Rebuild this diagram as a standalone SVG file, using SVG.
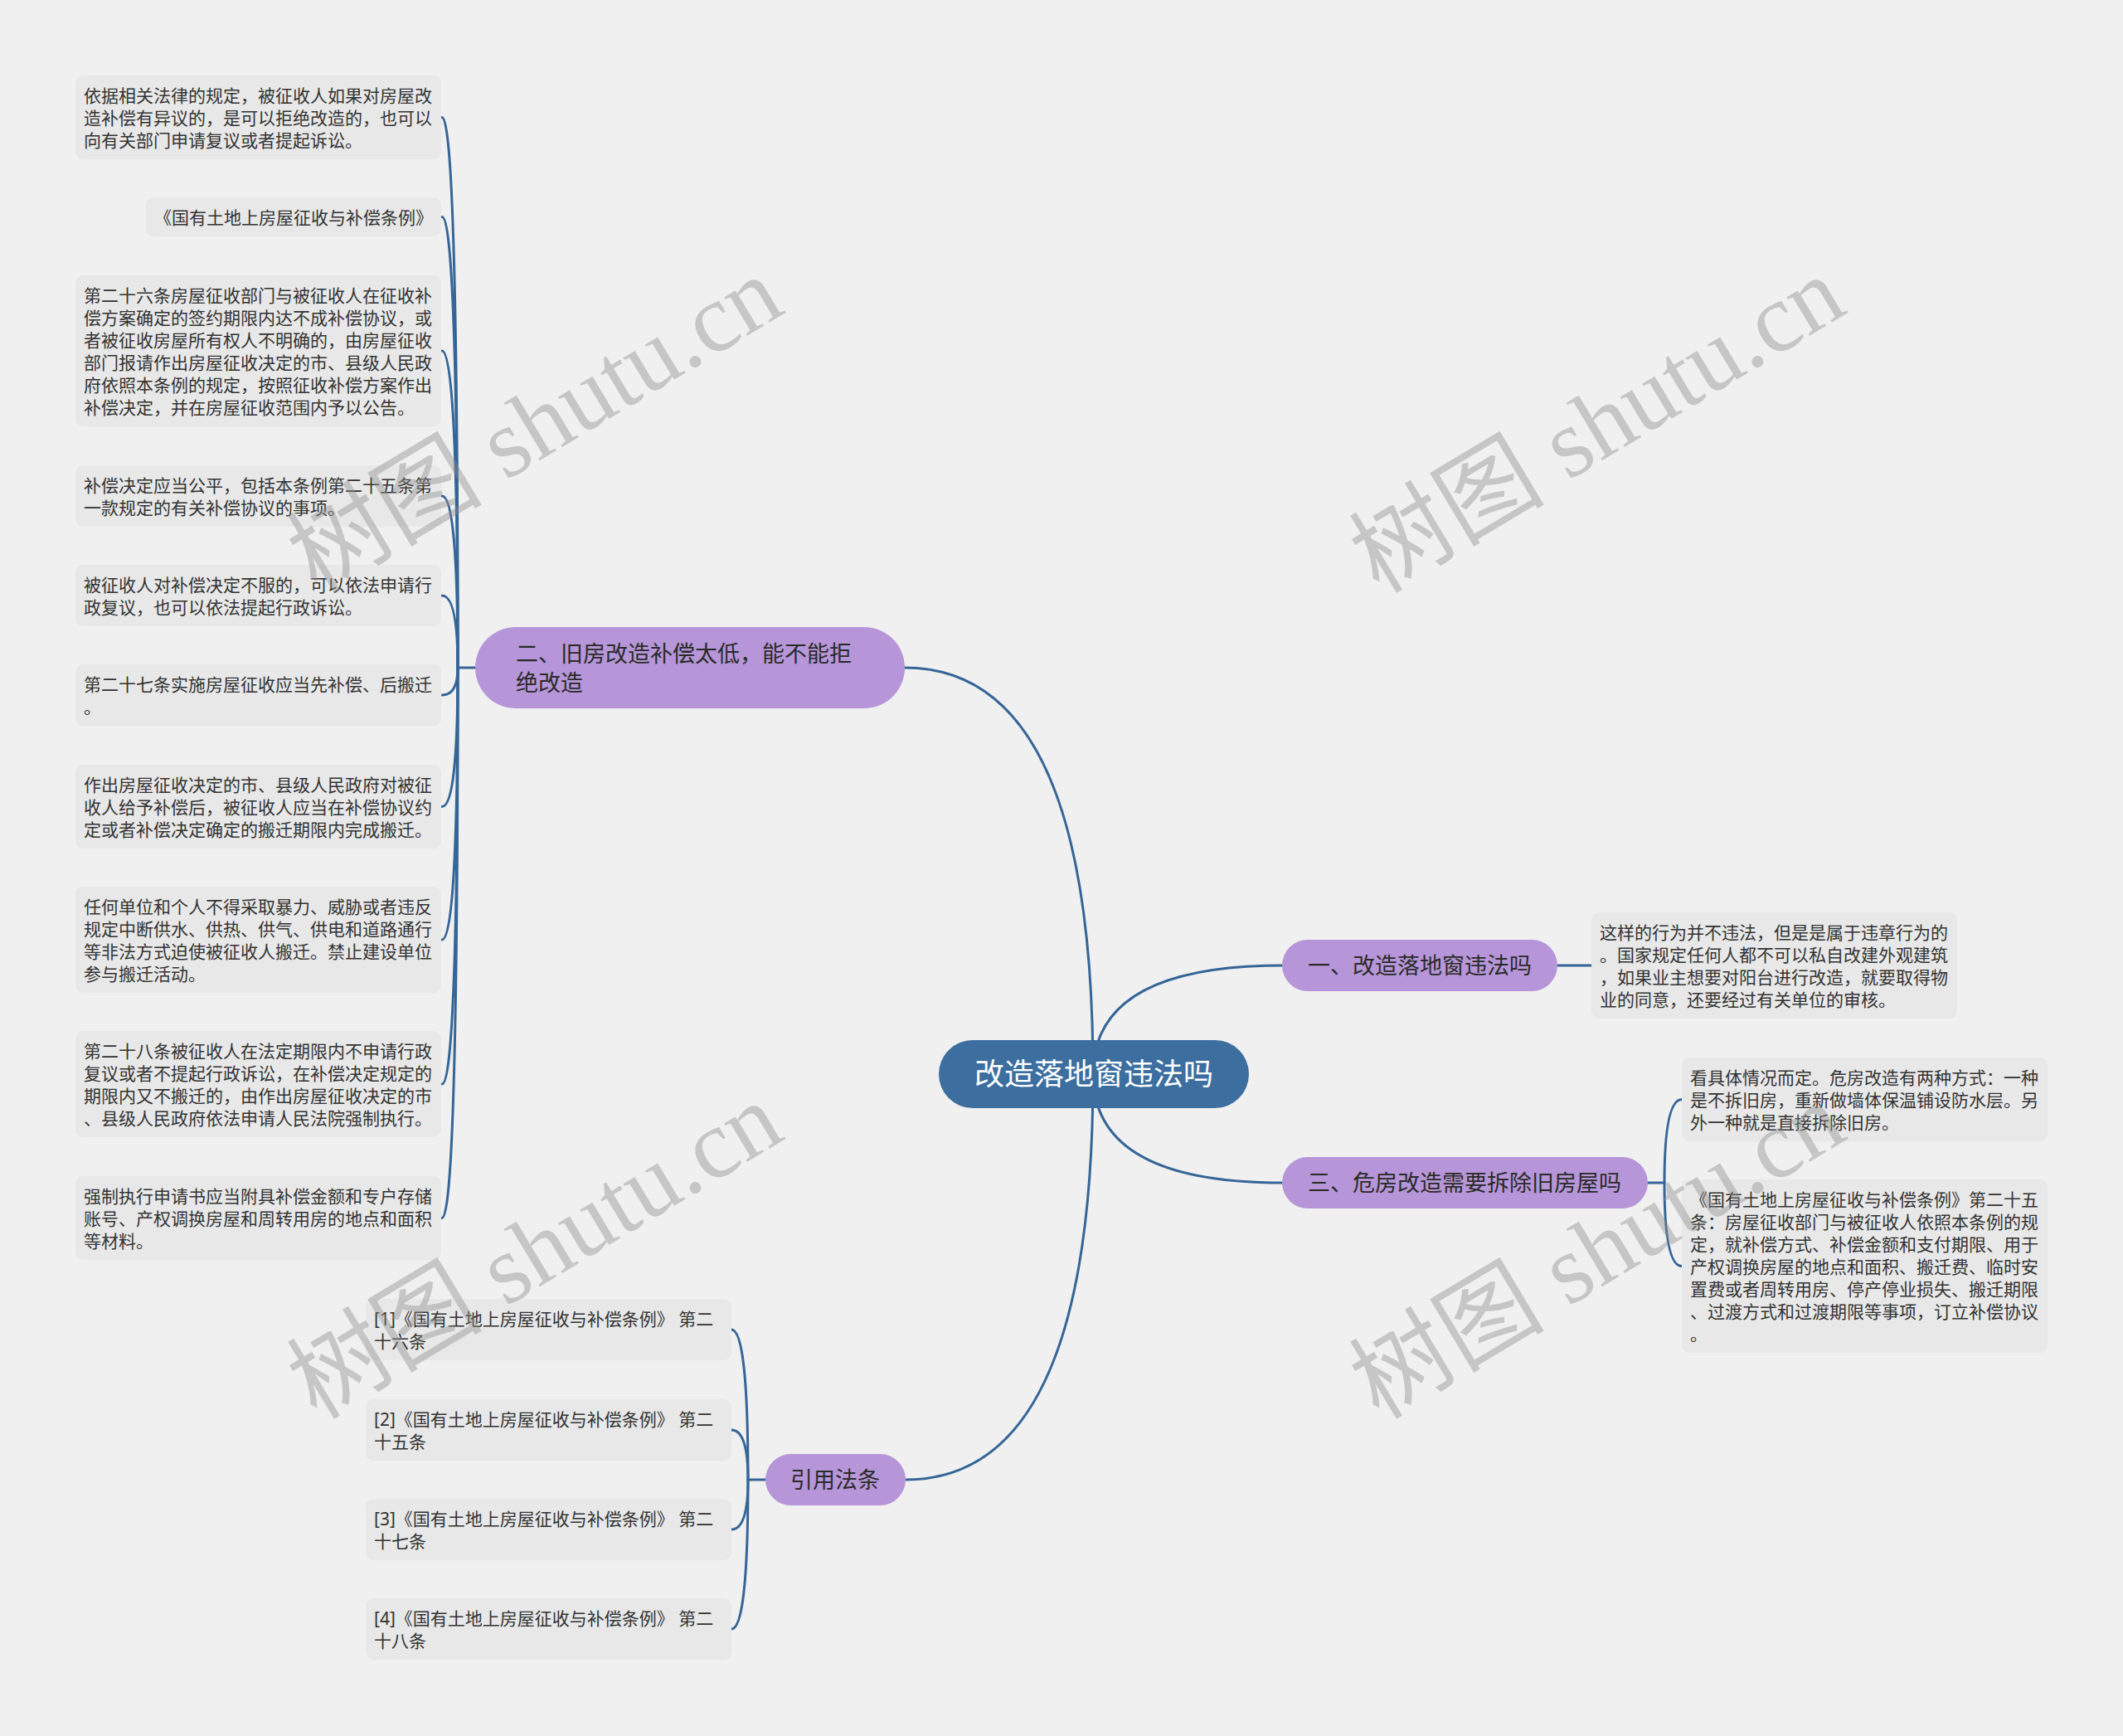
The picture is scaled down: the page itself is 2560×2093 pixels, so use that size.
<svg xmlns="http://www.w3.org/2000/svg" width="2560" height="2093" viewBox="0 0 2560 2093">
<style>
.bg{fill:#f0f0f0}
.leaf rect{fill:#e8e8e8}
.leaf text{font-family:"Noto Sans","Noto Sans CJK SC",sans-serif;font-size:21px;fill:#333333}
.branch rect{fill:#b696d8}
.branch text{font-family:"Noto Sans","Noto Sans CJK SC",sans-serif;font-size:27px;fill:#2a2a2a}
.root rect{fill:#3c6fa0}
.root text{font-family:"Noto Sans","Noto Sans CJK SC",sans-serif;font-size:36px;fill:#ffffff}
.conn path{fill:none;stroke:#356597;stroke-width:3;stroke-linecap:round}
.wm text{font-family:"Liberation Serif","Noto Sans CJK SC",serif;font-size:118px;fill:#8c8c8c;fill-opacity:0.42}
</style>
<rect class="bg" x="0" y="0" width="2560" height="2093"/>

<g id="connectors" class="conn">
<path d="M1318,1295 Q1318,805 1091,805"/>
<path d="M1318,1295 Q1318,1784 1092,1784"/>
<path d="M1318,1295 Q1318,1164 1546,1164"/>
<path d="M1318,1295 Q1318,1426 1546,1426"/>
<path d="M573,805 H552"/>
<path d="M552,805 Q552,141.5 533,141.5"/>
<path d="M552,805 Q552,261.5 533,261.5"/>
<path d="M552,805 Q552,423 533,423"/>
<path d="M552,805 Q552,598 533,598"/>
<path d="M552,805 Q552,718 533,718"/>
<path d="M552,805 Q552,838 533,838"/>
<path d="M552,805 Q552,972.5 533,972.5"/>
<path d="M552,805 Q552,1133 533,1133"/>
<path d="M552,805 Q552,1307 533,1307"/>
<path d="M552,805 Q552,1468.5 533,1468.5"/>
<path d="M1878,1164 H1919"/>
<path d="M1987,1426 H2007"/>
<path d="M2007,1426 Q2007,1325.5 2028,1325.5"/>
<path d="M2007,1426 Q2007,1526.5 2028,1526.5"/>
<path d="M923,1784 H902"/>
<path d="M902,1784 Q902,1603 882,1603"/>
<path d="M902,1784 Q902,1724 882,1724"/>
<path d="M902,1784 Q902,1844 882,1844"/>
<path d="M902,1784 Q902,1964 882,1964"/>
</g>

<g id="root" class="root">
<rect x="1132" y="1254" width="374" height="82" rx="41"/>
<text x="1319" y="1308" text-anchor="middle">改造落地窗违法吗</text>
</g>

<g id="b2" class="branch">
<rect x="573" y="756" width="518" height="98" rx="49"/>
<text><tspan x="622" y="798">二、旧房改造补偿太低，能不能拒</tspan><tspan x="622" y="833">绝改造</tspan></text>
</g>
<g id="b1" class="branch">
<rect x="1546" y="1133" width="332" height="62" rx="31"/>
<text x="1577" y="1174">一、改造落地窗违法吗</text>
</g>
<g id="b3" class="branch">
<rect x="1546" y="1395" width="441" height="62" rx="31"/>
<text x="1577" y="1436">三、危房改造需要拆除旧房屋吗</text>
</g>
<g id="b4" class="branch">
<rect x="923" y="1753" width="169" height="62" rx="31"/>
<text x="953" y="1794">引用法条</text>
</g>

<g id="l2-1" class="leaf">
<rect x="91" y="91" width="441" height="101" rx="9"/>
<text><tspan x="101" y="123">依据相关法律的规定，被征收人如果对房屋改</tspan><tspan x="101" y="150">造补偿有异议的，是可以拒绝改造的，也可以</tspan><tspan x="101" y="177">向有关部门申请复议或者提起诉讼。</tspan></text>
</g>
<g id="l2-2" class="leaf">
<rect x="176" y="238" width="356" height="47" rx="9"/>
<text x="186" y="270">《国有土地上房屋征收与补偿条例》</text>
</g>
<g id="l2-3" class="leaf">
<rect x="91" y="332" width="441" height="182" rx="9"/>
<text><tspan x="101" y="364">第二十六条房屋征收部门与被征收人在征收补</tspan><tspan x="101" y="391">偿方案确定的签约期限内达不成补偿协议，或</tspan><tspan x="101" y="418">者被征收房屋所有权人不明确的，由房屋征收</tspan><tspan x="101" y="445">部门报请作出房屋征收决定的市、县级人民政</tspan><tspan x="101" y="472">府依照本条例的规定，按照征收补偿方案作出</tspan><tspan x="101" y="499">补偿决定，并在房屋征收范围内予以公告。</tspan></text>
</g>
<g id="l2-4" class="leaf">
<rect x="91" y="561" width="441" height="74" rx="9"/>
<text><tspan x="101" y="593">补偿决定应当公平，包括本条例第二十五条第</tspan><tspan x="101" y="620">一款规定的有关补偿协议的事项。</tspan></text>
</g>
<g id="l2-5" class="leaf">
<rect x="91" y="681" width="441" height="74" rx="9"/>
<text><tspan x="101" y="713">被征收人对补偿决定不服的，可以依法申请行</tspan><tspan x="101" y="740">政复议，也可以依法提起行政诉讼。</tspan></text>
</g>
<g id="l2-6" class="leaf">
<rect x="91" y="801" width="441" height="74" rx="9"/>
<text><tspan x="101" y="833">第二十七条实施房屋征收应当先补偿、后搬迁</tspan><tspan x="101" y="860">。</tspan></text>
</g>
<g id="l2-7" class="leaf">
<rect x="91" y="922" width="441" height="101" rx="9"/>
<text><tspan x="101" y="954">作出房屋征收决定的市、县级人民政府对被征</tspan><tspan x="101" y="981">收人给予补偿后，被征收人应当在补偿协议约</tspan><tspan x="101" y="1008">定或者补偿决定确定的搬迁期限内完成搬迁。</tspan></text>
</g>
<g id="l2-8" class="leaf">
<rect x="91" y="1069" width="441" height="128" rx="9"/>
<text><tspan x="101" y="1101">任何单位和个人不得采取暴力、威胁或者违反</tspan><tspan x="101" y="1128">规定中断供水、供热、供气、供电和道路通行</tspan><tspan x="101" y="1155">等非法方式迫使被征收人搬迁。禁止建设单位</tspan><tspan x="101" y="1182">参与搬迁活动。</tspan></text>
</g>
<g id="l2-9" class="leaf">
<rect x="91" y="1243" width="441" height="128" rx="9"/>
<text><tspan x="101" y="1275">第二十八条被征收人在法定期限内不申请行政</tspan><tspan x="101" y="1302">复议或者不提起行政诉讼，在补偿决定规定的</tspan><tspan x="101" y="1329">期限内又不搬迁的，由作出房屋征收决定的市</tspan><tspan x="101" y="1356">、县级人民政府依法申请人民法院强制执行。</tspan></text>
</g>
<g id="l2-10" class="leaf">
<rect x="91" y="1418" width="441" height="101" rx="9"/>
<text><tspan x="101" y="1450">强制执行申请书应当附具补偿金额和专户存储</tspan><tspan x="101" y="1477">账号、产权调换房屋和周转用房的地点和面积</tspan><tspan x="101" y="1504">等材料。</tspan></text>
</g>

<g id="l1-1" class="leaf">
<rect x="1919" y="1100" width="441" height="128" rx="9"/>
<text><tspan x="1929" y="1132">这样的行为并不违法，但是是属于违章行为的</tspan><tspan x="1929" y="1159">。国家规定任何人都不可以私自改建外观建筑</tspan><tspan x="1929" y="1186">，如果业主想要对阳台进行改造，就要取得物</tspan><tspan x="1929" y="1213">业的同意，还要经过有关单位的审核。</tspan></text>
</g>

<g id="l3-1" class="leaf">
<rect x="2028" y="1275" width="441" height="101" rx="9"/>
<text><tspan x="2038" y="1307">看具体情况而定。危房改造有两种方式：一种</tspan><tspan x="2038" y="1334">是不拆旧房，重新做墙体保温铺设防水层。另</tspan><tspan x="2038" y="1361">外一种就是直接拆除旧房。</tspan></text>
</g>
<g id="l3-2" class="leaf">
<rect x="2028" y="1422" width="441" height="209" rx="9"/>
<text><tspan x="2038" y="1454">《国有土地上房屋征收与补偿条例》第二十五</tspan><tspan x="2038" y="1481">条：房屋征收部门与被征收人依照本条例的规</tspan><tspan x="2038" y="1508">定，就补偿方式、补偿金额和支付期限、用于</tspan><tspan x="2038" y="1535">产权调换房屋的地点和面积、搬迁费、临时安</tspan><tspan x="2038" y="1562">置费或者周转用房、停产停业损失、搬迁期限</tspan><tspan x="2038" y="1589">、过渡方式和过渡期限等事项，订立补偿协议</tspan><tspan x="2038" y="1616">。</tspan></text>
</g>

<g id="l4-1" class="leaf">
<rect x="441" y="1566" width="441" height="74" rx="9"/>
<text><tspan x="451" y="1598">[1]《国有土地上房屋征收与补偿条例》 第二</tspan><tspan x="451" y="1625">十六条</tspan></text>
</g>
<g id="l4-2" class="leaf">
<rect x="441" y="1687" width="441" height="74" rx="9"/>
<text><tspan x="451" y="1719">[2]《国有土地上房屋征收与补偿条例》 第二</tspan><tspan x="451" y="1746">十五条</tspan></text>
</g>
<g id="l4-3" class="leaf">
<rect x="441" y="1807" width="441" height="74" rx="9"/>
<text><tspan x="451" y="1839">[3]《国有土地上房屋征收与补偿条例》 第二</tspan><tspan x="451" y="1866">十七条</tspan></text>
</g>
<g id="l4-4" class="leaf">
<rect x="441" y="1927" width="441" height="74" rx="9"/>
<text><tspan x="451" y="1959">[4]《国有土地上房屋征收与补偿条例》 第二</tspan><tspan x="451" y="1986">十八条</tspan></text>
</g>

<g id="watermarks" class="wm">
<text transform="translate(645,512) rotate(-31)" x="0" y="40" text-anchor="middle">树图 shutu.cn</text>
<text transform="translate(1926,512) rotate(-31)" x="0" y="40" text-anchor="middle">树图 shutu.cn</text>
<text transform="translate(645,1508) rotate(-31)" x="0" y="40" text-anchor="middle">树图 shutu.cn</text>
<text transform="translate(1926,1508) rotate(-31)" x="0" y="40" text-anchor="middle">树图 shutu.cn</text>
</g>
</svg>
